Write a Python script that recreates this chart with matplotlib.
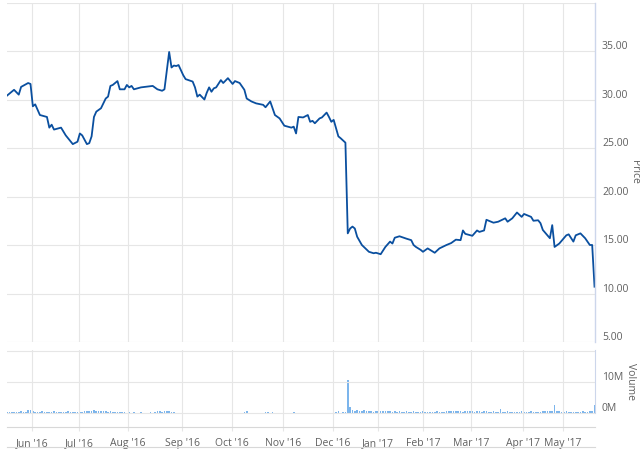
import matplotlib
matplotlib.use("Agg")
import matplotlib.pyplot as plt
from matplotlib.transforms import ScaledTranslation
from matplotlib.lines import Line2D

plt.rcParams['font.family'] = ['Open Sans', 'DejaVu Sans']

# trading session index -> closing price
session = [0, 3, 5, 6, 9, 10, 11, 12, 14, 17, 18, 19, 20, 23, 25, 28, 30, 31, 32, 34,
           35, 36, 37, 38, 40, 42, 43, 44, 45, 47, 48, 50, 51, 52, 53, 54, 57, 62, 64, 66,
           67, 69, 70, 71, 72, 73, 75, 76, 79, 80, 81, 82, 84, 85, 86, 87, 88, 89, 91, 92,
           94, 96, 97, 99, 101, 102, 104, 106, 109, 110, 112, 114, 116, 118, 121, 122, 123, 124, 126, 128,
           129, 130, 131, 133, 134, 136, 137, 138, 139, 141, 142, 144, 145, 146, 147, 148, 149, 151, 154, 156,
           157, 159, 161, 163, 164, 165, 167, 170, 172, 173, 174, 176, 177, 179, 182, 184, 187, 189, 191, 193,
           194, 195, 198, 200, 201, 203, 204, 207, 209, 212, 213, 215, 217, 219, 220, 223, 224, 226, 227, 228,
           231, 232, 233, 235, 238, 239, 241, 242, 244, 246, 248, 249, 250]
price = [30.4, 31.0, 30.5, 31.3, 31.7, 31.6, 29.3, 29.5, 28.4, 28.2, 27.1, 27.4, 26.9, 27.1, 26.3, 25.4, 25.65, 26.5, 26.3, 25.4,
         25.5, 26.2, 28.2, 28.75, 29.1, 30.1, 30.3, 31.4, 31.5, 31.9, 31.05, 31.05, 31.5, 31.25, 31.4, 31.05, 31.25, 31.4, 31.05, 30.9,
         31.05, 34.9, 33.3, 33.5, 33.45, 33.55, 32.5, 32.1, 31.85, 31.25, 30.3, 30.5, 30.0, 30.7, 31.25, 30.8, 31.15, 31.25, 32.0, 31.7,
         32.2, 31.6, 31.9, 31.7, 31.0, 30.1, 29.8, 29.6, 29.45, 29.2, 29.8, 28.4, 28.05, 27.3, 27.1, 27.2, 26.5, 28.2, 28.15, 28.4,
         27.7, 27.8, 27.55, 28.05, 28.15, 28.65, 28.2, 27.7, 27.9, 26.2, 26.0, 25.55, 16.2, 16.7, 16.9, 16.7, 15.85, 15.0, 14.3, 14.15,
         14.2, 14.05, 14.8, 15.35, 15.15, 15.75, 15.9, 15.65, 15.5, 15.0, 14.8, 14.5, 14.3, 14.65, 14.2, 14.65, 15.0, 15.2, 15.55, 15.5,
         16.5, 16.15, 15.95, 16.5, 16.35, 16.5, 17.6, 17.3, 17.4, 17.75, 17.4, 17.75, 18.35, 17.9, 18.2, 17.9, 17.5, 17.55, 17.25, 16.55,
         15.7, 17.05, 14.8, 15.15, 16.0, 16.1, 15.35, 16.0, 16.2, 15.7, 15.0, 15.0, 10.7]

# daily volume in millions, one per session 0..250
volume = [0.3, 0.2, 0.4, 0.3, 0.2, 0.3, 0.5, 0.3, 0.4, 0.9,
          1.0, 0.6, 0.4, 0.3, 0.2, 0.5, 0.3, 0.2, 0.4, 0.3,
          0.5, 0.2, 0.3, 0.4, 0.2, 0.3, 0.5, 0.2, 0.3, 0.2,
          0.4, 0.3, 0.2, 0.5, 0.6, 0.8, 0.5, 0.9, 0.7, 0.6,
          0.8, 0.5, 0.6, 0.3, 0.5, 0.2, 0.3, 0.4, 0.2, 0.3,
          0.2, 0.1, 0.2, 0.1, 0.2, 0.1, 0.1, 0.2, 0.1, 0.1,
          0.1, 0.2, 0.1, 0.2, 0.5, 0.7, 0.4, 0.8, 0.5, 0.6,
          0.3, 0.2, 0.1, 0.1, 0.1, 0.1, 0.1, 0.1, 0.1, 0.1,
          0.1, 0.1, 0.1, 0.1, 0.1, 0.1, 0.1, 0.1, 0.1, 0.1,
          0.1, 0.1, 0.1, 0.1, 0.1, 0.1, 0.1, 0.1, 0.1, 0.1,
          0.1, 0.2, 0.6, 0.1, 0.1, 0.1, 0.1, 0.1, 0.1, 0.1,
          0.2, 0.4, 0.1, 0.3, 0.1, 0.1, 0.1, 0.1, 0.1, 0.1,
          0.1, 0.1, 0.2, 0.1, 0.1, 0.1, 0.1, 0.1, 0.1, 0.1,
          0.1, 0.1, 0.1, 0.1, 0.1, 0.1, 0.1, 0.1, 0.1, 0.1,
          0.2, 0.5, 0.1, 0.2, 0.3, 10.6, 2.0, 1.1, 0.8, 0.9,
          0.7, 0.8, 1.1, 0.7, 0.6, 0.5, 0.3, 0.5, 0.6, 0.5,
          0.6, 0.5, 0.7, 0.6, 0.4, 0.5, 0.3, 0.6, 0.4, 0.3,
          0.5, 0.3, 0.4, 0.6, 0.3, 0.2, 0.4, 0.6, 0.3, 0.2,
          0.4, 0.2, 0.3, 0.5, 0.2, 0.4, 0.3, 0.6, 0.7, 0.5,
          0.6, 0.7, 0.5, 0.6, 0.4, 0.6, 0.7, 0.5, 0.6, 0.4,
          0.5, 0.6, 0.4, 0.7, 0.5, 0.3, 0.4, 0.6, 0.3, 0.4,
          1.2, 0.4, 0.3, 0.5, 0.2, 0.3, 0.4, 0.2, 0.3, 0.5,
          0.3, 0.2, 0.4, 0.5, 0.2, 0.3, 0.2, 0.3, 0.5, 0.6,
          0.5, 0.7, 0.6, 2.6, 0.7, 0.5, 0.4, 0.3, 0.5, 0.4,
          0.3, 0.2, 0.3, 0.4, 0.2, 0.5, 0.3, 0.4, 0.5, 0.6,
          2.6]

month_labels = ["Jun '16", "Jul '16", "Aug '16", "Sep '16", "Oct '16", "Nov '16",
                "Dec '16", "Jan '17", "Feb '17", "Mar '17", "Apr '17", "May '17"]
month_pos = [10.6, 30.6, 51.5, 74.5, 95.7, 117.4, 138.7, 157.9, 177.0, 197.4, 219.6, 236.6]

price_ticks = [5, 10, 15, 20, 25, 30, 35, 40]
vol_ticks = [0, 10, 20]

line_col = '#0a4f9f'
bar_col = '#7cb5ec'
grid_col = '#e6e6e6'
axis_col = '#ccd6eb'
text_col = '#606060'
W, H = 640, 449

fig = plt.figure(figsize=(6.4, 4.49), dpi=100)
ax1 = fig.add_axes([7 / W, 1 - 342 / H, 588 / W, 339.5 / H])
ax2 = fig.add_axes([7 / W, 1 - 427 / H, 588 / W, 77 / H])

xmax = 250.2

# ---- price panel ----
ax1.plot(session, price, color=line_col, lw=1.3, solid_joinstyle='round')
ax1.set_xlim(0, xmax)
ax1.set_ylim(5, 40)
ax1.set_yticks(price_ticks)
ax1.set_yticklabels(['%.2f' % v if v < 40 else '' for v in price_ticks])
ax1.set_xticks(month_pos)
ax1.tick_params(axis='x', length=0, labelbottom=False)
ax1.yaxis.tick_right()
ax1.tick_params(axis='y', length=0, pad=5, labelsize=7.5, labelcolor=text_col)
ax1.grid(True, color=grid_col, lw=0.8)
for s in ['top', 'bottom', 'left']:
    ax1.spines[s].set_visible(False)
ax1.spines['right'].set_color(axis_col)
ax1.spines['right'].set_linewidth(1.0)
ax1.text(1.068, 0.5, 'Price', transform=ax1.transAxes, rotation=-90,
         ha='center', va='center', fontsize=7.5, color=text_col)

# ---- volume panel ----
ax2.bar(range(len(volume)), volume, width=0.7, color=bar_col, linewidth=0)
ax2.set_xlim(0, xmax)
ax2.set_ylim(-4.5, 20.3)
ax2.set_yticks(vol_ticks)
ax2.set_yticklabels(['0M', '10M', ''])
ax2.yaxis.tick_right()
ax2.tick_params(axis='y', length=0, pad=5, labelsize=7.5, labelcolor=text_col)
ax2.set_xticks(month_pos)
ax2.set_xticklabels(month_labels)
ax2.tick_params(axis='x', length=3, color=grid_col, pad=5, labelsize=7.5, labelcolor=text_col)
ax2.grid(True, color=grid_col, lw=0.8)
for s in ['top', 'left']:
    ax2.spines[s].set_visible(False)
ax2.spines['bottom'].set_color('#d8d8d8')
ax2.spines['right'].set_color(axis_col)
ax2.spines['right'].set_bounds(0, 20.3)
ax2.text(1.06, 0.59, 'Volume', transform=ax2.transAxes, rotation=-90,
         ha='center', va='center', fontsize=7.5, color=text_col)

# lift y labels above their gridlines
shift = ScaledTranslation(0, 4 / 72, fig.dpi_scale_trans)
for ax in (ax1, ax2):
    for lab in ax.get_yticklabels():
        lab.set_transform(lab.get_transform() + shift)

fig.add_artist(Line2D([7 / W, 595 / W], [1 - 447 / H] * 2, color='#d8d8d8', lw=0.8))

fig.savefig('out.png', dpi=100, facecolor='white')
